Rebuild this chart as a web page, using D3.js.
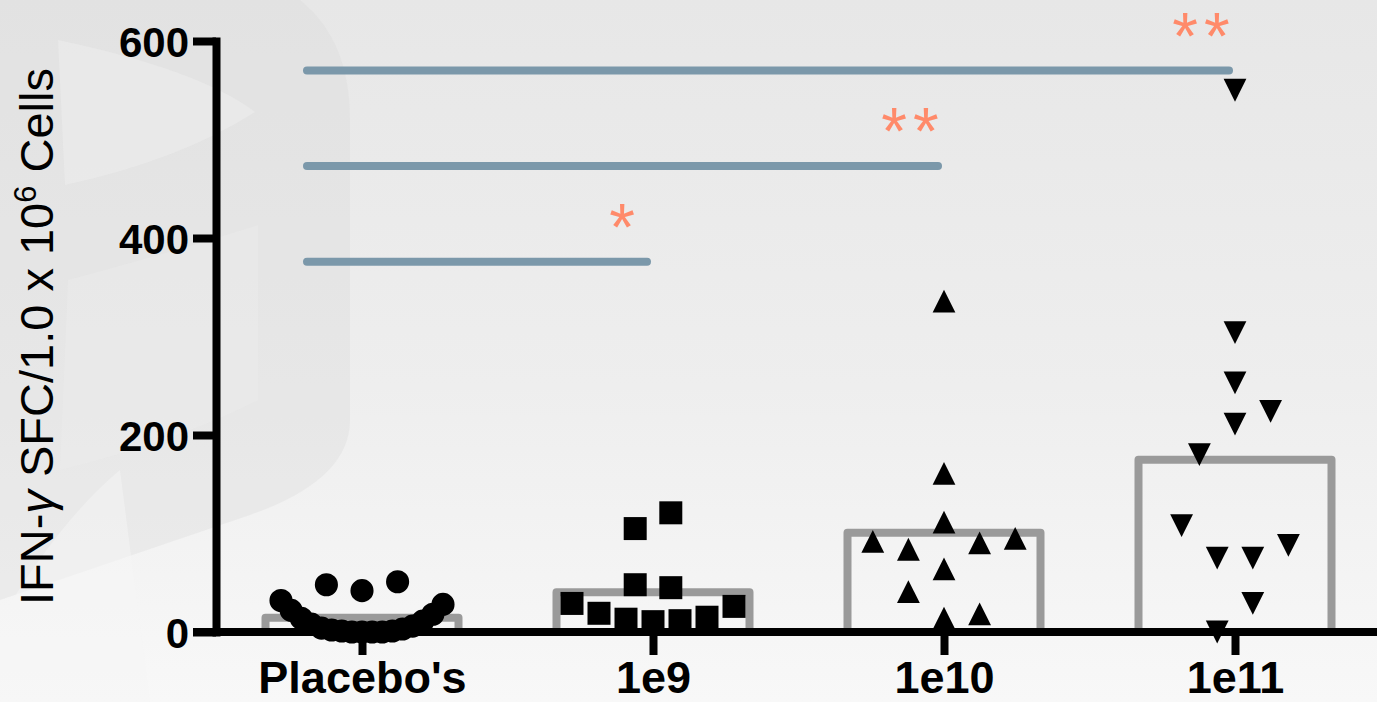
<!DOCTYPE html>
<html>
<head>
<meta charset="utf-8">
<script src="https://cdn.jsdelivr.net/npm/d3@7"></script>
<style>
  html, body { margin: 0; padding: 0; background: #eeeeee; }
  svg { display: block; font-family: "Liberation Sans", Arial, sans-serif; }
</style>
</head>
<body>
<div id="chart"></div>
<script>
// chart data
var categories = ["Placebo's", "1e9", "1e10", "1e11"];
// each group: rows of points that sit side by side, listed left to right
var placeboRows = [[32, 22, 14, 8, 4, 2, 1, 0, 0, 0, 0, 1, 3, 6, 11, 18, 28], [48, 42, 51]];
var e9Rows = [[29, 19, 13, 10.5, 11.5, 15, 26], [48, 45], [105, 121]];
var e10Rows = [[41, 14, 18.5], [64], [92, 84, 111.5, 90.5, 95], [161], [336]];
var e11Rows = [[0, 29], [108, 75, 75, 88], [180, 211, 224], [253], [304], [550]];
var yTicks = [0, 200, 400, 600];
// significance brackets vs placebo
var sigTargets = ["1e9", "1e10", "1e11"];
var sigLevels = [376, 473, 570];
var sigLabels = ["*", "**", "**"];

var width = 1377,
    height = 702;

var svg = d3.select("#chart")
  .append("svg")
  .attr("width", width)
  .attr("height", height);

// background + faint watermark
var defs = svg.append("defs");
var grad = defs.append("linearGradient")
  .attr("id", "bg")
  .attr("x1", 0).attr("y1", 0).attr("x2", 0).attr("y2", 1);
grad.append("stop").attr("offset", "0%").attr("stop-color", "#e7e7e7");
grad.append("stop").attr("offset", "55%").attr("stop-color", "#eeeeee");
grad.append("stop").attr("offset", "100%").attr("stop-color", "#f8f8f8");

svg.append("rect")
  .attr("width", width)
  .attr("height", height)
  .attr("fill", "url(#bg)");

var mark = svg.append("g").attr("class", "watermark");
mark.append("path")
  .attr("d", "M0,0 L300,0 Q350,40 350,120 L350,420 Q350,480 250,515 L0,600 Z")
  .attr("fill", "#d9d9d9")
  .attr("opacity", 0.35);
mark.append("path")
  .attr("d", "M58,40 Q200,70 255,112 Q180,160 65,185 Z")
  .attr("fill", "#f0f0f0")
  .attr("opacity", 0.45);
mark.append("path")
  .attr("d", "M68,280 Q180,250 258,225 L258,400 Q180,440 60,470 Z")
  .attr("fill", "#efefef")
  .attr("opacity", 0.35);
mark.append("path")
  .attr("d", "M0,702 L0,620 Q60,520 120,470 L150,702 Z")
  .attr("fill", "#f6f6f6")
  .attr("opacity", 0.5);

// scales
var x = d3.scalePoint()
  .domain(categories)
  .range([362, 1235]);

var y = d3.scaleLinear()
  .domain([0, 600])
  .range([632, 41]);

var barWidth = 193;
var maxRowSpan = 162;
var slotStep = 35.6;

var groups = [
  {name: categories[0], rows: placeboRows, shape: "circle"},
  {name: categories[1], rows: e9Rows, shape: "square"},
  {name: categories[2], rows: e10Rows, shape: "up"},
  {name: categories[3], rows: e11Rows, shape: "down"}
];

groups.forEach(function(g) {
  g.values = d3.merge(g.rows);
  g.mean = d3.mean(g.values);
  g.points = [];
  g.rows.forEach(function(row) {
    var n = row.length;
    var step = n > 1 ? Math.min(slotStep, maxRowSpan / (n - 1)) : 0;
    row.forEach(function(v, i) {
      g.points.push({value: v, dx: (i - (n - 1) / 2) * step});
    });
  });
});

// mean bars (open outline)
svg.append("g")
  .selectAll("rect")
  .data(groups)
  .enter()
  .append("rect")
    .attr("x", function(d) { return x(d.name) - barWidth / 2; })
    .attr("y", function(d) { return y(d.mean); })
    .attr("width", barWidth)
    .attr("height", function(d) { return y(0) - y(d.mean); })
    .attr("fill", "none")
    .attr("stroke", "#9a9a9a")
    .attr("stroke-width", 8)
    .attr("stroke-linejoin", "round");

// axes
var yAxis = svg.append("g")
  .attr("transform", "translate(216,0)")
  .call(d3.axisLeft(y).tickValues(yTicks).tickSize(23).tickSizeOuter(0).tickFormat(d3.format("d")));
yAxis.select(".domain")
  .attr("stroke", "#000")
  .attr("stroke-width", 8)
  .attr("stroke-linecap", "square");
yAxis.selectAll(".tick line")
  .attr("stroke", "#000")
  .attr("stroke-width", 8);
yAxis.selectAll(".tick text")
  .attr("x", -27)
  .attr("dy", "0.36em")
  .attr("fill", "#000")
  .style("font-size", "42px")
  .style("font-weight", "bold")
  .style("font-family", "'Liberation Sans', Arial, sans-serif");

var xAxis = svg.append("g")
  .attr("transform", "translate(0," + y(0) + ")")
  .call(d3.axisBottom(x).tickSize(23).tickSizeOuter(0));
xAxis.select(".domain").remove();
xAxis.selectAll(".tick line")
  .attr("stroke", "#000")
  .attr("stroke-width", 8);
xAxis.selectAll(".tick text")
  .attr("y", 61)
  .attr("dy", 0)
  .attr("fill", "#000")
  .style("font-size", "45px")
  .style("font-weight", "bold")
  .style("font-family", "'Liberation Sans', Arial, sans-serif");

svg.append("line")
  .attr("x1", 193)
  .attr("x2", width)
  .attr("y1", y(0))
  .attr("y2", y(0))
  .attr("stroke", "#000")
  .attr("stroke-width", 8);

// y axis title
var title = svg.append("text")
  .attr("transform", "translate(53," + (y(0) + y(600)) / 2 + ") rotate(-90)")
  .attr("text-anchor", "middle")
  .attr("fill", "#000")
  .style("font-size", "47px");
title.append("tspan").text("IFN-");
title.append("tspan").style("font-style", "italic").text("γ");
title.append("tspan").text(" SFC/1.0 x 10");
title.append("tspan").attr("dy", -17).style("font-size", "31px").text("6");
title.append("tspan").attr("dy", 17).text(" Cells");

// custom triangle symbols (bbox centred)
var triUp = {
  draw: function(ctx, size) {
    var h = Math.sqrt(size);
    ctx.moveTo(0, -h / 2);
    ctx.lineTo(h / 2, h / 2);
    ctx.lineTo(-h / 2, h / 2);
    ctx.closePath();
  }
};
var triDown = {
  draw: function(ctx, size) {
    var h = Math.sqrt(size);
    ctx.moveTo(0, h / 2);
    ctx.lineTo(h / 2, -h / 2);
    ctx.lineTo(-h / 2, -h / 2);
    ctx.closePath();
  }
};
var shapes = {
  circle: d3.symbol().type(d3.symbolCircle).size(420),
  square: d3.symbol().type(d3.symbolSquare).size(529),
  up: d3.symbol().type(triUp).size(520),
  down: d3.symbol().type(triDown).size(520)
};

// data points
groups.forEach(function(g) {
  svg.append("g")
    .selectAll("path")
    .data(g.points)
    .enter()
    .append("path")
      .attr("d", shapes[g.shape])
      .attr("transform", function(d) {
        return "translate(" + (x(g.name) + d.dx) + "," + y(d.value) + ")";
      })
      .attr("fill", "#000");
});

// significance lines and stars
var sig = sigTargets.map(function(t, i) {
  return {target: t, level: sigLevels[i], label: sigLabels[i]};
});

svg.append("g")
  .selectAll("line")
  .data(sig)
  .enter()
  .append("line")
    .attr("x1", x(categories[0]) - 55)
    .attr("x2", function(d) { return x(d.target) - 6; })
    .attr("y1", function(d) { return y(d.level); })
    .attr("y2", function(d) { return y(d.level); })
    .attr("stroke", "#7b98aa")
    .attr("stroke-width", 8)
    .attr("stroke-linecap", "round");

svg.append("g")
  .selectAll("text")
  .data(sig)
  .enter()
  .append("text")
    .attr("x", function(d) { return x(d.target) - 31; })
    .attr("y", function(d) { return y(d.level) - 12; })
    .attr("text-anchor", "middle")
    .attr("fill", "#ff8a6a")
    .style("font-size", "66px")
    .style("letter-spacing", function(d) { return d.label.length > 1 ? "6px" : "0px"; })
    .text(function(d) { return d.label; });
</script>
</body>
</html>
